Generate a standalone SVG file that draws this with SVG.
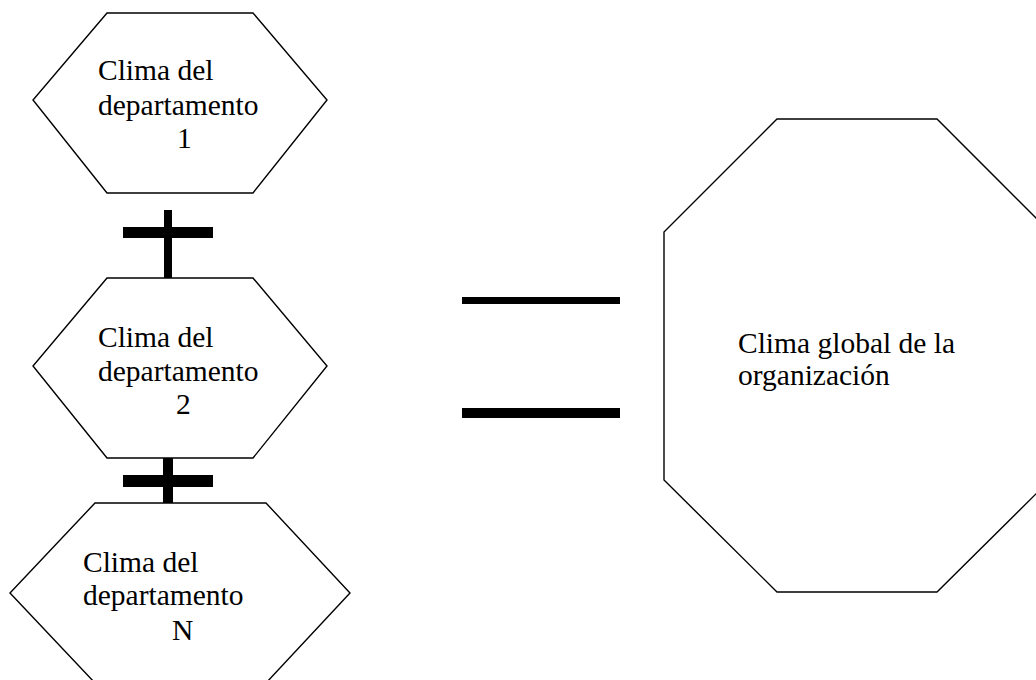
<svg xmlns="http://www.w3.org/2000/svg" width="1036" height="680" viewBox="0 0 1036 680">
  <style>
    .shape { fill: #ffffff; stroke: #000000; stroke-width: 1.4; stroke-linejoin: miter; }
    .label { font-family: "Liberation Serif", "Times New Roman", serif; font-size: 29.5px; fill: #000000; }
    .bar { fill: #000000; }
  </style>
  <rect width="1036" height="680" fill="#ffffff"/>

  <!-- connectors: plus signs between the departments and the equals sign -->
  <g id="connectors">
    <rect class="bar" x="164" y="210" width="8" height="68"/>
    <rect class="bar" x="123" y="227" width="90" height="11"/>
    <rect class="bar" x="163" y="458" width="10" height="45"/>
    <rect class="bar" x="123" y="475" width="90" height="12"/>
    <rect class="bar" x="462" y="297" width="158" height="7"/>
    <rect class="bar" x="462" y="408" width="158" height="10"/>
  </g>

  <g id="dept1">
    <polygon class="shape" points="107,13 253,13 327,100 253,193 107,193 33,100"/>
    <text class="label" x="98" y="80">Clima del</text>
    <text class="label" x="98" y="115">departamento</text>
    <text class="label" x="177" y="148">1</text>
  </g>

  <g id="dept2">
    <polygon class="shape" points="107,278 253,278 327,366 253,458 107,458 33,366"/>
    <text class="label" x="98" y="347">Clima del</text>
    <text class="label" x="98" y="381">departamento</text>
    <text class="label" x="176" y="414">2</text>
  </g>

  <g id="deptN">
    <polygon class="shape" points="95,503 266,503 350,593 266,683 95,683 10,593"/>
    <text class="label" x="83" y="572">Clima del</text>
    <text class="label" x="83" y="605">departamento</text>
    <text class="label" x="172" y="640">N</text>
  </g>

  <g id="global">
    <polygon class="shape" points="777,119 937,119 1050,232 1050,480 937,592 777,592 664,480 664,232"/>
    <text class="label" x="738" y="353">Clima global de la</text>
    <text class="label" x="738" y="385">organización</text>
  </g>
</svg>
